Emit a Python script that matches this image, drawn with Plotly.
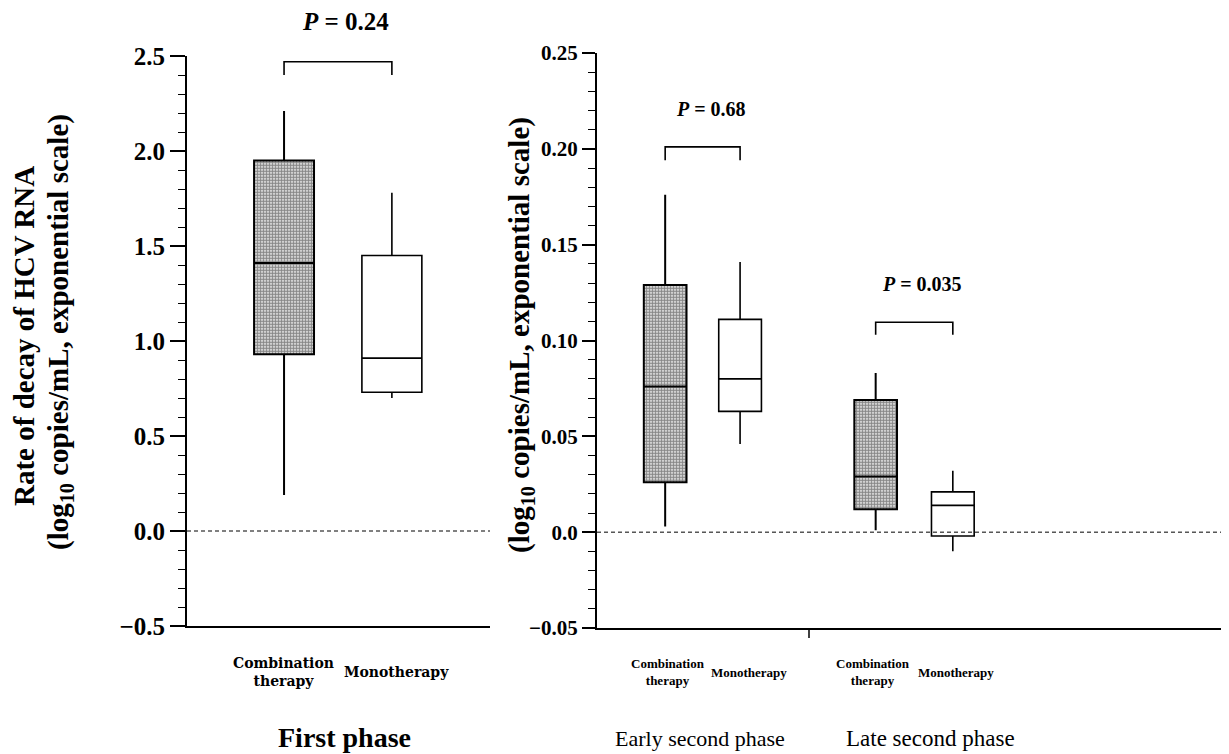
import plotly.graph_objects as go

# The page body adds an 8px margin on every side
OFF = 8
W, H = 1229 - 2 * OFF, 754 - OFF

# ---------------- data ----------------
groups = ["Combination therapy", "Monotherapy"]

# First phase (left panel)
first_lower = [0.19, 0.70]
first_q1 = [0.93, 0.73]
first_median = [1.41, 0.91]
first_q3 = [1.95, 1.45]
first_upper = [2.21, 1.78]
first_p = "<i>P</i> = 0.24"

# Early second phase
early_lower = [0.003, 0.046]
early_q1 = [0.026, 0.063]
early_median = [0.076, 0.080]
early_q3 = [0.129, 0.111]
early_upper = [0.176, 0.141]
early_p = "<i>P</i> = 0.68"

# Late second phase
late_lower = [0.001, -0.010]
late_q1 = [0.012, -0.002]
late_median = [0.029, 0.014]
late_q3 = [0.069, 0.021]
late_upper = [0.083, 0.032]
late_p = "<i>P</i> = 0.035"

phase_names = ["First phase", "Early second phase", "Late second phase"]

left_ticks = [-0.5, 0.0, 0.5, 1.0, 1.5, 2.0, 2.5]
left_ticktext = ["\u22120.5", "0.0", "0.5", "1.0", "1.5", "2.0", "2.5"]
right_ticks = [-0.05, 0.0, 0.05, 0.10, 0.15, 0.20, 0.25]
right_ticktext = ["\u22120.05", "0.0", "0.05", "0.10", "0.15", "0.20", "0.25"]

# bracket levels (top, leg bottom)
first_bracket = (2.47, 2.40)
early_bracket = (0.201, 0.194)
late_bracket = (0.1095, 0.103)

# ---------------- layout helpers ----------------
def fx(px):
    return min(1.0, (px - OFF) / W)

def fy(py):
    return 1 - (py - OFF) / H

left_pos = [0, 1]
early_pos = [0, 1]
late_pos = [2.81, 3.84]
left_width = 0.556
right_width = 0.57

SERIF = "Liberation Serif, Times New Roman, serif"
WIDE = "DejaVu Serif, serif"

fig = go.Figure()

def add_panel(pos, lower, q1, med, q3, upper, width, xa, ya):
    # stippled fill for combination therapy
    fig.add_trace(go.Bar(
        x=[pos[0]], y=[q3[0] - q1[0]], base=[q1[0]], width=width,
        marker=dict(color="white",
                    pattern=dict(shape=".", fgcolor="#111", bgcolor="white",
                                 size=3, solidity=0.7),
                    line=dict(width=0)),
        xaxis=xa, yaxis=ya, showlegend=False, hoverinfo="skip"))
    for i in range(2):
        fig.add_trace(go.Box(
            x=[pos[i]], q1=[q1[i]], median=[med[i]], q3=[q3[i]],
            lowerfence=[lower[i]], upperfence=[upper[i]],
            width=width, whiskerwidth=0, fillcolor="rgba(0,0,0,0)",
            line=dict(color="black", width=2 if i == 0 else 1.6),
            boxpoints=False, xaxis=xa, yaxis=ya, showlegend=False))

add_panel(left_pos, first_lower, first_q1, first_median, first_q3, first_upper,
          left_width, "x", "y")
add_panel(early_pos, early_lower, early_q1, early_median, early_q3, early_upper,
          right_width, "x2", "y2")
add_panel(late_pos, late_lower, late_q1, late_median, late_q3, late_upper,
          right_width, "x2", "y2")

shapes = []
annotations = []

def ann(**kw):
    kw.setdefault("showarrow", False)
    kw.setdefault("xanchor", "center")
    kw.setdefault("yanchor", "middle")
    annotations.append(kw)

def bracket(pos, lev, xr, yr, ptext, fsize):
    top, bot = lev
    shapes.append(dict(type="path", xref=xr, yref=yr,
                       path=f"M {pos[0]},{bot} L {pos[0]},{top} L {pos[1]},{top} L {pos[1]},{bot}",
                       line=dict(color="black", width=1.6)))
    ann(x=(pos[0] + pos[1]) / 2, y=top, xref=xr, yref=yr,
        text=f"<b>{ptext}</b>", yanchor="bottom", yshift=25, xshift=8,
        font=dict(family=SERIF, size=fsize, color="black"))

bracket(left_pos, first_bracket, "x", "y", first_p, 25)
bracket(early_pos, early_bracket, "x2", "y2", early_p, 20)
bracket(late_pos, late_bracket, "x2", "y2", late_p, 20)

# dashed zero lines
for xr, yr in (("x domain", "y"), ("x2 domain", "y2")):
    shapes.append(dict(type="line", xref=xr, yref=yr, x0=0, x1=1, y0=0, y1=0,
                       line=dict(color="black", width=1, dash="4px,3px")))

# group separator tick on right x axis
shapes.append(dict(type="line", xref="x2", yref="paper", x0=1.92, x1=1.92,
                   y0=fy(628), y1=fy(638), line=dict(color="black", width=1.5)))

# category labels
def cat_labels(pos, dx, xr, family, size):
    ann(x=pos[0], y=fy(672), xref=xr, yref="paper",
        text="<b>Combination<br>therapy</b>", xshift=dx[0],
        font=dict(family=family, size=size, color="black"))
    ann(x=pos[1], y=fy(672), xref=xr, yref="paper",
        text="<b>Monotherapy</b>", xshift=dx[1],
        font=dict(family=family, size=size, color="black"))

cat_labels(left_pos, (-1, 5), "x", WIDE, 14)
cat_labels(early_pos, (3, 9), "x2", SERIF, 13)
cat_labels(late_pos, (-3, 3), "x2", SERIF, 13)

# phase labels
ann(x=fx(344), y=fy(737), xref="paper", yref="paper",
    text="<b>" + phase_names[0] + "</b>",
    font=dict(family=SERIF, size=28, color="black"))
ann(x=fx(700), y=fy(738), xref="paper", yref="paper",
    text=phase_names[1], font=dict(family=SERIF, size=22, color="black"))
ann(x=fx(930), y=fy(738), xref="paper", yref="paper",
    text=phase_names[2], font=dict(family=SERIF, size=23, color="black"))

# y axis titles
ytitle2 = "<b>(log<sub>10</sub> copies/mL, exponential scale)</b>"
ann(x=fx(24), y=fy(336), xref="paper", yref="paper",
    text="<b>Rate of decay of HCV RNA</b>", textangle=-90,
    font=dict(family=SERIF, size=29, color="black"))
ann(x=fx(60), y=fy(332), xref="paper", yref="paper",
    text=ytitle2, textangle=-90,
    font=dict(family=SERIF, size=29, color="black"))
ann(x=fx(521), y=fy(335), xref="paper", yref="paper",
    text=ytitle2, textangle=-90,
    font=dict(family=SERIF, size=29, color="black"))

axis_common = dict(showgrid=False, zeroline=False, showline=True, linecolor="black",
                   linewidth=2, automargin=False)

fig.update_layout(
    width=W, height=H,
    margin=dict(l=0, r=0, t=0, b=0),
    paper_bgcolor="white", plot_bgcolor="white",
    barmode="overlay", boxmode="overlay",
    showlegend=False,
    xaxis=dict(domain=[fx(187), fx(490)], range=[-0.9, 1.91], showticklabels=False,
               ticks="", anchor="y", **axis_common),
    yaxis=dict(domain=[fy(626), fy(56)], range=[-0.5, 2.5], anchor="x",
               tickvals=left_ticks, ticktext=left_ticktext, ticks="outside",
               ticklen=15, tickwidth=1.5, tickcolor="black",
               minor=dict(dtick=0.1, ticks="outside", ticklen=7, tickwidth=1.2, tickcolor="black"),
               tickfont=dict(family=SERIF, size=25, color="black", weight="bold"),
               **axis_common),
    xaxis2=dict(domain=[fx(597), 1.0], range=[-0.91, 7.42], showticklabels=False,
                ticks="", anchor="y2", **axis_common),
    yaxis2=dict(domain=[fy(628), fy(53)], range=[-0.05, 0.25], anchor="x2",
                tickvals=right_ticks, ticktext=right_ticktext, ticks="outside",
                ticklen=13, tickwidth=1.5, tickcolor="black",
                minor=dict(dtick=0.01, ticks="outside", ticklen=7, tickwidth=1.2, tickcolor="black"),
                tickfont=dict(family=SERIF, size=21, color="black", weight="bold"),
                **axis_common),
    shapes=shapes,
    annotations=annotations,
)

fig.write_html("out.html")
